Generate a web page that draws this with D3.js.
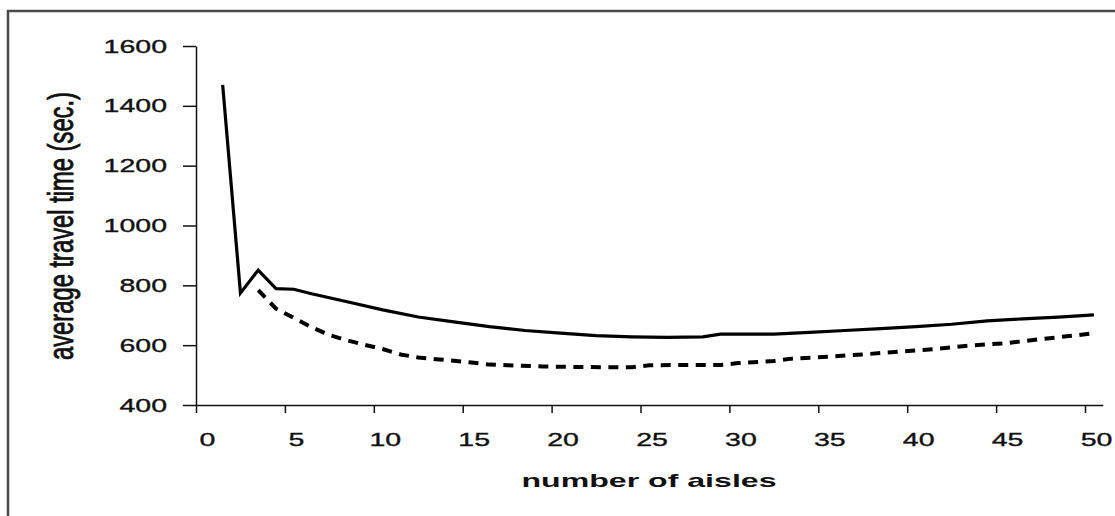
<!DOCTYPE html>
<html>
<head>
<meta charset="utf-8">
<script src="https://cdn.jsdelivr.net/npm/d3@7"></script>
<style>
  html, body { margin: 0; padding: 0; background: #fff; }
  svg { display: block; }
  text { font-family: "Liberation Sans", Arial, sans-serif; fill: #111; }
</style>
</head>
<body>
<svg id="chart" width="1115" height="516"></svg>
<script>
// Average travel time versus number of aisles, two policies.
const solidAisles = [1.5, 2.5, 3.5, 4.5, 5.5, 6.5, 8.5, 10.5, 12.5, 14.5, 16.5, 18.5, 20.5, 22.5, 24.5, 26.5, 28.5, 29.5, 32.5, 34.5, 36.5, 38.5, 40.5, 42.5, 44.5, 46.5, 48.5, 50.5];
const solidTimes  = [1470, 774, 851, 789, 787, 772, 745, 718, 694, 678, 662, 649, 640, 632, 628, 626, 628, 637, 637, 643, 649, 655, 662, 670, 681, 688, 694, 701];

const dashedAisles = [3.5, 4.5, 5.5, 6.5, 7.5, 8.5, 9.5, 10.5, 11.5, 12.5, 13.5, 14.5, 15.5, 16.5, 17.5, 19.5, 21.5, 24.5, 25.5, 29.5, 30.5, 32.5, 33.5, 35.5, 37.5, 39.5, 41.5, 43.5, 45.5, 47.5, 49.5, 50.5];
const dashedTimes  = [784, 722, 691, 660, 634, 616, 601, 587, 569, 559, 553, 548, 542, 535, 533, 529, 527, 526, 533, 534, 540, 547, 555, 561, 569, 578, 587, 599, 606, 620, 633, 640];

const xTicks = [0, 5, 10, 15, 20, 25, 30, 35, 40, 45, 50];
const yTicks = [400, 600, 800, 1000, 1200, 1400, 1600];

const xTitle = "number of aisles";
const yTitle = "average travel time (sec.)";

const svg = d3.select("#chart");

// outer frame (top and left edges visible)
svg.append("path")
  .attr("d", "M8,516 L8,11 L1115,11")
  .attr("fill", "none")
  .attr("stroke", "#4a4a4a")
  .attr("stroke-width", 2.5);

const x = d3.scaleLinear().domain([0, 51]).range([196, 196 + 51 * 17.78]);
const y = d3.scaleLinear().domain([400, 1600]).range([405, 46]);

// widen glyphs horizontally
function stretch(sel, k) {
  sel.each(function () {
    const w = this.getComputedTextLength();
    this.setAttribute("textLength", w * k);
    this.setAttribute("lengthAdjust", "spacingAndGlyphs");
  });
}

// x axis
const gx = svg.append("g")
  .attr("transform", `translate(0,${y(400)})`)
  .call(d3.axisBottom(x).tickValues(xTicks).tickFormat(d3.format("d"))
    .tickSize(8).tickPadding(20).tickSizeOuter(0));
gx.select(".domain").attr("stroke", "#111").attr("stroke-width", 1.5);
gx.selectAll(".tick line").attr("stroke", "#111").attr("stroke-width", 1.5);
gx.selectAll(".tick text").attr("font-size", 19).attr("dx", 11)
  .attr("fill", "#111").attr("stroke", "#111").attr("stroke-width", 0.35);
stretch(gx.selectAll(".tick text"), 1.5);

// y axis
const gy = svg.append("g")
  .attr("transform", `translate(${x(0)},0)`)
  .call(d3.axisLeft(y).tickValues(yTicks).tickFormat(d3.format("d"))
    .tickSize(13).tickPadding(16).tickSizeOuter(0));
gy.select(".domain").attr("stroke", "#111").attr("stroke-width", 1.5);
gy.selectAll(".tick line").attr("stroke", "#111").attr("stroke-width", 1.5);
gy.selectAll(".tick text").attr("font-size", 19)
  .attr("fill", "#111").attr("stroke", "#111").attr("stroke-width", 0.35);
stretch(gy.selectAll(".tick text"), 1.5);

// axis titles
svg.append("text")
  .attr("x", 649).attr("y", 487)
  .attr("text-anchor", "middle")
  .attr("font-size", 19)
  .attr("font-weight", "bold")
  .attr("textLength", 255)
  .attr("lengthAdjust", "spacingAndGlyphs")
  .text(xTitle);

svg.append("text")
  .attr("transform", "translate(73,226) rotate(-90) scale(1,1.75)")
  .attr("text-anchor", "middle")
  .attr("font-size", 20)
  .attr("stroke", "#111")
  .attr("stroke-width", 0.5)
  .attr("textLength", 268)
  .attr("lengthAdjust", "spacingAndGlyphs")
  .text(yTitle);

// series
const line = d3.line().x(d => x(d[0])).y(d => y(d[1]));

svg.append("path")
  .datum(d3.zip(dashedAisles, dashedTimes))
  .attr("d", line)
  .attr("fill", "none")
  .attr("stroke", "#000")
  .attr("stroke-width", 4)
  .attr("stroke-dasharray", "10,7.5");

svg.append("path")
  .datum(d3.zip(solidAisles, solidTimes))
  .attr("d", line)
  .attr("fill", "none")
  .attr("stroke", "#000")
  .attr("stroke-width", 3.2)
  .attr("stroke-linejoin", "miter");
</script>
</body>
</html>
